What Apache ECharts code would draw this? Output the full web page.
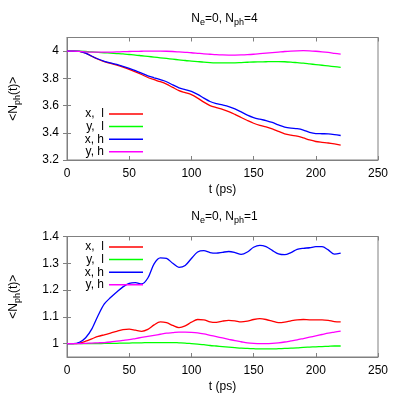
<!DOCTYPE html>
<html><head><meta charset="utf-8">
<script src="https://cdn.jsdelivr.net/npm/echarts@6/dist/echarts.min.js"></script>
<style>html,body{margin:0;padding:0;background:#fff}#c{width:407px;height:398px}</style>
</head><body><div id="c"></div>
<script>
var times = [0,5,10,15,20,25,30,35,40,45,50,55,60,65,70,75,80,85,90,95,100,105,110,115,120,125,130,135,140,145,150,155,160,165,170,175,180,185,190,195,200,205,210,215,220];
var seriesNames = ['x,  l','y,  l','x, h','y, h'];
var seriesColors = ['#ff0000','#00ff00','#0000ff','#ff00ff'];
var xTicks = [0,50,100,150,200,250];
var yTicksTop = [3.2,3.4,3.6,3.8,4];
var yTicksBottom = [1,1.1,1.2,1.3,1.4];

// N_ph = 4
var xl4 = [4.000,4.000,3.998,3.985,3.962,3.940,3.922,3.910,3.897,3.882,3.866,3.848,3.828,3.806,3.790,3.775,3.757,3.733,3.710,3.695,3.680,3.655,3.625,3.600,3.585,3.572,3.556,3.535,3.512,3.490,3.470,3.455,3.443,3.428,3.410,3.392,3.382,3.375,3.362,3.347,3.336,3.330,3.325,3.318,3.310];
var yl4 = [4.000,4.000,3.999,3.997,3.994,3.991,3.988,3.985,3.982,3.979,3.975,3.971,3.966,3.961,3.956,3.951,3.946,3.941,3.936,3.931,3.927,3.923,3.919,3.916,3.914,3.913,3.913,3.914,3.916,3.918,3.920,3.921,3.922,3.923,3.923,3.922,3.919,3.915,3.911,3.906,3.901,3.896,3.891,3.886,3.881];
var xh4 = [4.000,4.000,3.998,3.985,3.962,3.942,3.925,3.913,3.902,3.888,3.873,3.857,3.838,3.818,3.804,3.790,3.775,3.752,3.730,3.717,3.704,3.682,3.655,3.630,3.615,3.605,3.593,3.575,3.553,3.530,3.512,3.500,3.490,3.476,3.458,3.442,3.434,3.430,3.420,3.403,3.394,3.393,3.392,3.387,3.380];
var yh4 = [4.000,4.000,3.998,3.995,3.993,3.992,3.992,3.993,3.994,3.996,3.997,3.998,3.999,4.000,4.000,4.000,3.999,3.997,3.994,3.991,3.988,3.984,3.980,3.977,3.974,3.972,3.971,3.971,3.972,3.974,3.977,3.981,3.985,3.989,3.993,3.997,4.000,4.002,4.003,4.002,3.999,3.995,3.990,3.984,3.978];

// N_ph = 1
var xl1 = [1.000,1.000,1.002,1.009,1.018,1.027,1.033,1.039,1.046,1.052,1.054,1.050,1.046,1.053,1.070,1.081,1.078,1.068,1.060,1.066,1.080,1.090,1.089,1.081,1.079,1.084,1.087,1.085,1.081,1.084,1.090,1.093,1.090,1.084,1.078,1.080,1.085,1.089,1.090,1.089,1.089,1.089,1.087,1.082,1.081];
var yl1 = [1.000,1.000,1.000,1.000,1.000,1.000,1.001,1.001,1.001,1.002,1.002,1.003,1.003,1.004,1.004,1.004,1.004,1.004,1.003,1.002,1.000,0.998,0.996,0.993,0.991,0.989,0.987,0.985,0.983,0.982,0.981,0.980,0.980,0.980,0.981,0.982,0.983,0.984,0.986,0.987,0.988,0.989,0.990,0.991,0.991];
var xh1 = [1.000,1.000,1.005,1.022,1.055,1.105,1.148,1.172,1.193,1.212,1.225,1.228,1.223,1.245,1.298,1.320,1.318,1.300,1.285,1.292,1.318,1.342,1.347,1.340,1.338,1.341,1.344,1.340,1.333,1.342,1.360,1.367,1.362,1.348,1.335,1.332,1.340,1.352,1.356,1.358,1.362,1.362,1.350,1.334,1.338];
var yh1 = [1.000,1.000,1.000,1.001,1.002,1.003,1.004,1.006,1.009,1.012,1.015,1.019,1.023,1.027,1.031,1.035,1.039,1.041,1.043,1.043,1.042,1.040,1.036,1.031,1.026,1.021,1.016,1.011,1.007,1.003,1.001,1.000,1.000,1.001,1.003,1.006,1.010,1.014,1.019,1.024,1.029,1.034,1.039,1.043,1.047];

var topData = [xl4, yl4, xh4, yh4];
var bottomData = [xl1, yl1, xh1, yh1];

function pairs(v){ return times.map(function(t,i){ return [t, v[i]]; }); }

var gray = '#808080';
var font = 'Liberation Sans, Arial, sans-serif';
var titleRich = {
  n: {fontSize: 12, fontWeight: 'normal', color: '#000', fontFamily: font, lineHeight: 16},
  s: {fontSize: 9, fontWeight: 'normal', color: '#000', fontFamily: font, lineHeight: 16, padding: [7,0,0,0]}
};

function xAx(gi, main){
  return {
    type: 'value', gridIndex: gi, min: 0, max: 250, interval: 50,
    position: main ? 'bottom' : 'top',
    name: main ? 't (ps)' : '', nameLocation: 'middle', nameGap: 24,
    nameTextStyle: {fontSize: 12, color: '#000', fontFamily: font},
    axisLine: {show: true, lineStyle: {color: gray}},
    axisTick: {show: true, inside: true, length: 4, lineStyle: {color: gray}, customValues: xTicks},
    axisLabel: {show: main, fontSize: 12, color: '#000', fontFamily: font, margin: 8, customValues: xTicks},
    splitLine: {show: false}
  };
}
function yAx(gi, main, mn, mx, ticks){
  return {
    type: 'value', gridIndex: gi, min: mn, max: mx,
    position: main ? 'left' : 'right',
    name: main ? '<N{s|ph}(t)>' : '', nameLocation: 'middle', nameGap: 45,
    nameTextStyle: {fontSize: 12, color: '#000', fontFamily: font, rich: {s: {fontSize: 9, color: '#000', fontFamily: font, padding: [7,0,0,0]}}},
    axisLine: {show: true, lineStyle: {color: gray}},
    axisTick: {show: true, inside: true, length: 4, lineStyle: {color: gray}, customValues: ticks},
    axisLabel: {show: main, fontSize: 12, color: '#000', fontFamily: font, margin: 8, customValues: ticks},
    splitLine: {show: false}
  };
}

var series = [];
[topData, bottomData].forEach(function(arr, gi){
  arr.forEach(function(v, k){
    series.push({
      type: 'line', name: seriesNames[k], xAxisIndex: gi*2, yAxisIndex: gi*2,
      data: pairs(v), showSymbol: false, smooth: 0.3,
      lineStyle: {color: seriesColors[k], width: 1.3}, itemStyle: {color: seriesColors[k]},
      animation: false, z: 2
    });
  });
});

function legend(top){
  return {
    orient: 'vertical', right: 259, top: top, align: 'right',
    icon: 'rect', itemWidth: 34, itemHeight: 1.5, itemGap: 0.6,
    data: seriesNames, selectedMode: false,
    textStyle: {fontSize: 12, color: '#000', fontFamily: font, lineHeight: 12, width: 28, align: 'right'}
  };
}

var option = {
  animation: false,
  backgroundColor: '#fff',
  title: [
    {text: '{n|N}{s|e}{n|=0, N}{s|ph}{n|=4}', left: 219.5, textAlign: 'center', top: 6, textStyle: {fontWeight: 'normal', rich: titleRich}},
    {text: '{n|N}{s|e}{n|=0, N}{s|ph}{n|=1}', left: 219.5, textAlign: 'center', top: 204, textStyle: {fontWeight: 'normal', rich: titleRich}}
  ],
  grid: [
    {left: 61, top: 37.5, width: 317, height: 122.5, show: true, borderColor: gray, borderWidth: 1, backgroundColor: 'transparent'},
    {left: 61, top: 236.5, width: 317, height: 120.5, show: true, borderColor: gray, borderWidth: 1, backgroundColor: 'transparent'}
  ],
  xAxis: [xAx(0, true), xAx(0, false), xAx(1, true), xAx(1, false)],
  yAxis: [yAx(0, true, 3.2, 4.1, yTicksTop), yAx(0, false, 3.2, 4.1, yTicksTop), yAx(1, true, 0.95, 1.4, yTicksBottom), yAx(1, false, 0.95, 1.4, yTicksBottom)],
  legend: [legend(103), legend(236)],
  series: series
};
var chart = echarts.init(document.getElementById('c'), null, {renderer: 'canvas'});
chart.setOption(option);
</script></body></html>
